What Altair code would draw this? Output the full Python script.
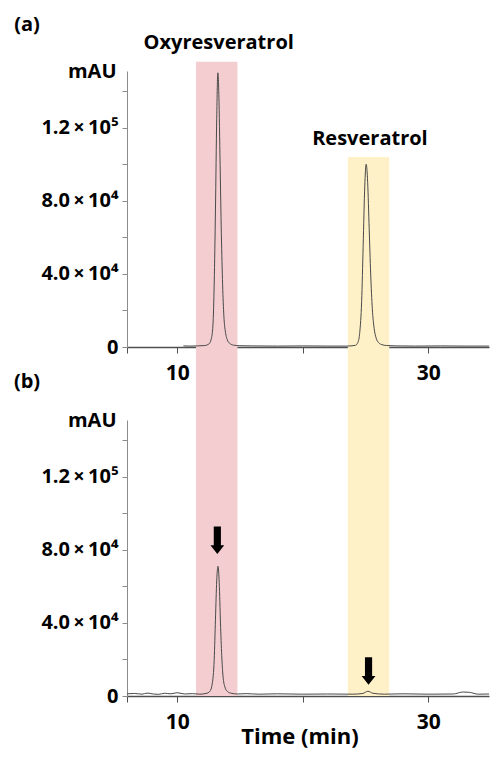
import altair as alt
import pandas as pd

# ---- chromatogram (a): standards ----
t_a = [10.5, 11.0, 11.6, 12.2, 12.5, 12.7, 12.85, 12.95, 13.05, 13.15, 13.24, 13.32, 13.42,
       13.52, 13.62, 13.72, 13.85, 14.0, 14.2, 14.5, 15.0, 16.0, 18.0, 20.0, 22.0, 23.5,
       24.2, 24.4, 24.55, 24.7, 24.82, 24.95, 25.06, 25.18, 25.3, 25.42, 25.55, 25.7,
       25.85, 26.05, 26.3, 26.7, 27.5, 29.0, 31.0, 33.0, 34.85]
v_a = [600, 500, 600, 800, 1500, 4000, 12000, 35000, 75000, 125000, 150000, 138000, 100000,
       62000, 34000, 17000, 8000, 3800, 1900, 1000, 700, 600, 500, 600, 500, 500,
       900, 2500, 8000, 25000, 55000, 88000, 100000, 90000, 65000, 40000, 21000, 10000,
       5000, 2400, 1300, 800, 600, 500, 600, 500, 500]

# ---- chromatogram (b): sample ----
t_b = [6.0, 6.6, 7.2, 7.6, 8.1, 8.5, 9.0, 9.5, 10.0, 10.6, 11.2, 11.8, 12.3, 12.6, 12.8,
       12.95, 13.05, 13.15, 13.25, 13.35, 13.45, 13.55, 13.65, 13.8, 14.0, 14.3, 14.8,
       15.5, 16.5, 18.0, 20.0, 22.0, 24.0, 24.8, 25.2, 25.6, 26.5, 28.0, 30.0, 32.0,
       32.8, 33.3, 34.0, 34.85]
v_b = [1200, 1400, 1000, 1600, 1100, 900, 1500, 1200, 1800, 1100, 1300, 1000, 1400, 2500,
       7000, 20000, 42000, 63000, 71000, 62000, 40000, 22000, 11000, 5000, 2500, 1500, 1100,
       1300, 1000, 1200, 1000, 1100, 1000, 1400, 2600, 1500, 1000, 1200, 1000, 1100,
       2200, 2000, 1000, 1100]

# ---- retention windows ----
band_names = ["Oxyresveratrol", "Resveratrol"]
band_start = [11.5, 23.6]
band_end = [14.8, 26.9]
band_top_a = [156000, 104000]
band_colors = ["#f3cdd0", "#fef0c7"]

# ---- annotations ----
label_t = [13.31, 25.36]
label_y = [166300, 113800]
arrow_t = [13.2, 25.25]
arrow_y = [85200, 13700]
panel_labels = ["(a)", "(b)"]

# ---- axes ----
x_domain = [6, 34.85]
y_domain = [0, 151000]
x_ticks = [6, 10, 20, 30]
x_tick_labels = {10: "10", 30: "30"}
y_ticks = [0, 20000, 40000, 60000, 80000, 100000, 120000, 140000]
y_tick_labels = {0: "0", 40000: "4.0\u2009×\u200910⁴", 80000: "8.0\u2009×\u200910⁴",
                 120000: "1.2\u2009×\u200910⁵"}

W = 362
H = 276
GAP = 73
FONT = "Open Sans"


def label_expr(mapping):
    expr = "''"
    for k, v in reversed(list(mapping.items())):
        expr = f"datum.value == {k} ? '{v}' : {expr}"
    return expr


xscale = alt.Scale(domain=x_domain, nice=False, zero=False)
yscale = alt.Scale(domain=y_domain, nice=False)

bands = pd.DataFrame({"name": band_names, "start": band_start, "end": band_end, "top": band_top_a})
labels = pd.DataFrame({"name": band_names, "t": label_t, "y": label_y})
arrows = pd.DataFrame({"t": arrow_t, "y": arrow_y})
trace_a = pd.DataFrame({"t": t_a, "v": v_a})
trace_b = pd.DataFrame({"t": t_b, "v": v_b})

band_color = alt.Color("name:N", scale=alt.Scale(domain=band_names, range=band_colors), legend=None)

Y_AXIS = alt.Axis(values=y_ticks, labelExpr=label_expr(y_tick_labels), title="mAU",
                  titleAngle=0, titleAlign="right", titleBaseline="middle", titleX=-11, titleY=0,
                  titleFontSize=20, titleFontWeight="bold", titleColor="black",
                  labelFontSize=20, labelFontWeight="bold", labelColor="black",
                  tickSize=5, labelPadding=4, domainColor="#8c8c8c", tickColor="#8c8c8c",
                  domainWidth=1, grid=False, labelOverlap=False)

X_COMMON = dict(values=x_ticks, labelExpr=label_expr(x_tick_labels),
                labelFontSize=21, labelFontWeight="bold", labelColor="black",
                tickSize=6, labelPadding=9, domainColor="#505050", tickColor="#505050",
                domainWidth=1.6, grid=False, labelOverlap=False)
X_AXIS_TOP = alt.Axis(title=None, **X_COMMON)
X_AXIS_BOTTOM = alt.Axis(title="Time (min)", titleFontSize=22, titleFontWeight="bold",
                         titleColor="black", titleX=172.5, titleY=40, titleBaseline="middle",
                         **X_COMMON)


def panel(trace, x_axis, band_y, band_y2, idx):
    band = alt.Chart(bands).mark_rect().encode(
        x=alt.X("start:Q", scale=xscale, axis=x_axis),
        x2="end:Q",
        y=band_y,
        y2=band_y2,
        color=band_color,
    )
    line = alt.Chart(trace).mark_line(color="#4a4a4a", strokeWidth=1, interpolate="monotone").encode(
        x=alt.X("t:Q", scale=xscale, axis=x_axis),
        y=alt.Y("v:Q", scale=yscale, axis=Y_AXIS),
    )
    tag = alt.Chart(pd.DataFrame({"p": [panel_labels[idx]]})).mark_text(
        fontSize=20, fontWeight="bold", color="black", align="center", baseline="middle"
    ).encode(x=alt.value(-100), y=alt.value(-46 if idx == 0 else -38), text="p:N")
    return [band, line, tag]


top_layers = panel(trace_a, X_AXIS_TOP, alt.Y("top:Q", scale=yscale, axis=Y_AXIS), alt.value(H + GAP), 0)
top_text = alt.Chart(labels).mark_text(fontSize=20, fontWeight="bold", color="black",
                                       align="center", baseline="middle").encode(
    x=alt.X("t:Q", scale=xscale, axis=X_AXIS_TOP),
    y=alt.Y("y:Q", scale=yscale, axis=Y_AXIS),
    text="name:N",
)
top = alt.layer(*top_layers, top_text).properties(width=W, height=H)

bottom_layers = panel(trace_b, X_AXIS_BOTTOM, alt.value(0), alt.value(H), 1)
arrow_shape = "M-0.26,-1L0.26,-1L0.26,0.36L0.5,0.36L0,1L-0.5,0.36L-0.26,0.36Z"
arrow_mark = alt.Chart(arrows).mark_point(shape=arrow_shape, size=760, filled=True,
                                          color="black", opacity=1, strokeWidth=0).encode(
    x=alt.X("t:Q", scale=xscale, axis=X_AXIS_BOTTOM),
    y=alt.Y("y:Q", scale=yscale, axis=Y_AXIS),
)
bottom = alt.layer(*bottom_layers, arrow_mark).properties(width=W, height=H)

chart = alt.vconcat(top, bottom, spacing=GAP, bounds="flush").properties(
    padding={"left": 5, "top": 7, "right": 0, "bottom": 5}
).configure(font=FONT).configure_view(stroke=None)

chart.save("out.html", embed_options={"renderer": "svg", "actions": False})
